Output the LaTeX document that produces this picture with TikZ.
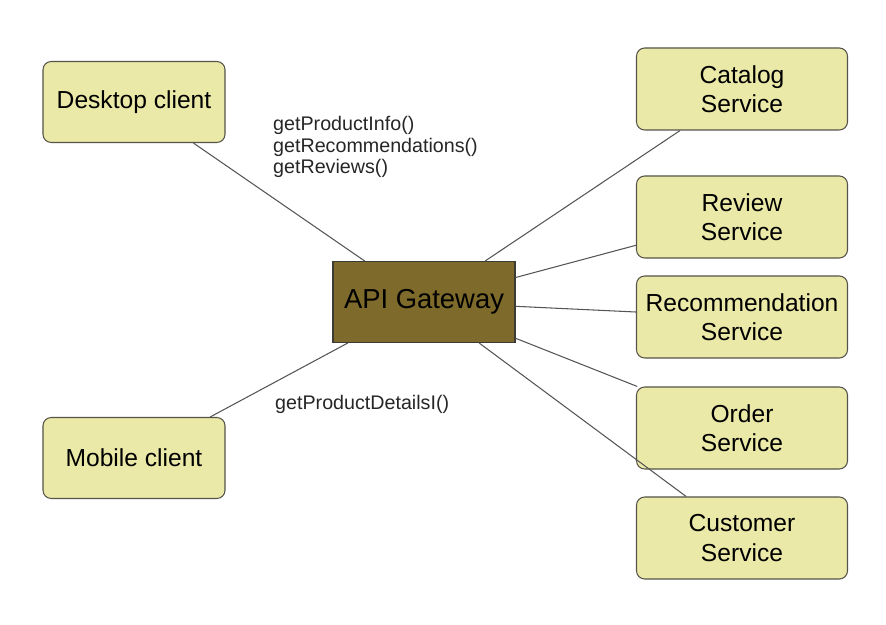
\documentclass[tikz,border=0pt]{standalone}
\usepackage{fontspec}
\setmainfont{Liberation Sans}
\definecolor{hopvang}{HTML}{EBE9A7}
\definecolor{vienhop}{HTML}{55534A}
\definecolor{congapi}{HTML}{7E6A2A}
\definecolor{duongnoi}{HTML}{555555}
\tikzset{
    dichvu/.style={draw=vienhop, fill=hopvang, line width=0.9pt, rounded corners=7pt,
        minimum width=6.33cm, minimum height=2.46cm, inner sep=1pt, align=center,
        font=\fontsize{21}{25}\selectfont},
    khach/.style={dichvu, minimum width=5.46cm, minimum height=2.43cm},
    cong/.style={draw=vienhop!70!black, fill=congapi, line width=0.9pt,
        minimum width=5.46cm, minimum height=2.43cm, inner sep=1pt,
        font=\fontsize{23.4}{26}\selectfont},
    ghichu/.style={anchor=west, align=left, inner sep=0pt, text=black!85,
        font=\fontsize{16.8}{18.3}\selectfont},
    noi/.style={draw=duongnoi, line width=0.9pt}
}
\begin{document}
\begin{tikzpicture}[x=0.03cm, y=-0.03cm]
    \useasboundingbox (0,0) rectangle (886,625);

    % Máy khách
    \node[khach] (desktop) at (134,102) {Desktop client};
    \node[khach] (mobile) at (134,458) {Mobile client};

    % Cổng API
    \node[cong] (gateway) at (424,302) {API Gateway};

    % Các dịch vụ
    \node[dichvu] (catalog) at (742,89) {Catalog\\Service};
    \node[dichvu] (review) at (742,217) {Review\\Service};
    \node[dichvu] (recommend) at (742,317) {Recommendation\\Service};
    \node[dichvu] (order) at (742,428) {Order\\Service};
    \node[dichvu] (customer) at (742,538) {Customer\\Service};

    % Đường nối
    \draw[noi] (desktop) -- (gateway);
    \draw[noi] (mobile) -- (gateway);
    \foreach \dv in {catalog, review, recommend, order, customer}
        \draw[noi] (gateway) -- (\dv);

    % Ghi chú lời gọi
    \node[ghichu] (goidesktop) at (273,147) {getProductInfo()\\getRecommendations()\\getReviews()};
    \node[ghichu] (goimobile) at (275,404) {getProductDetailsI()};
\end{tikzpicture}
\end{document}
